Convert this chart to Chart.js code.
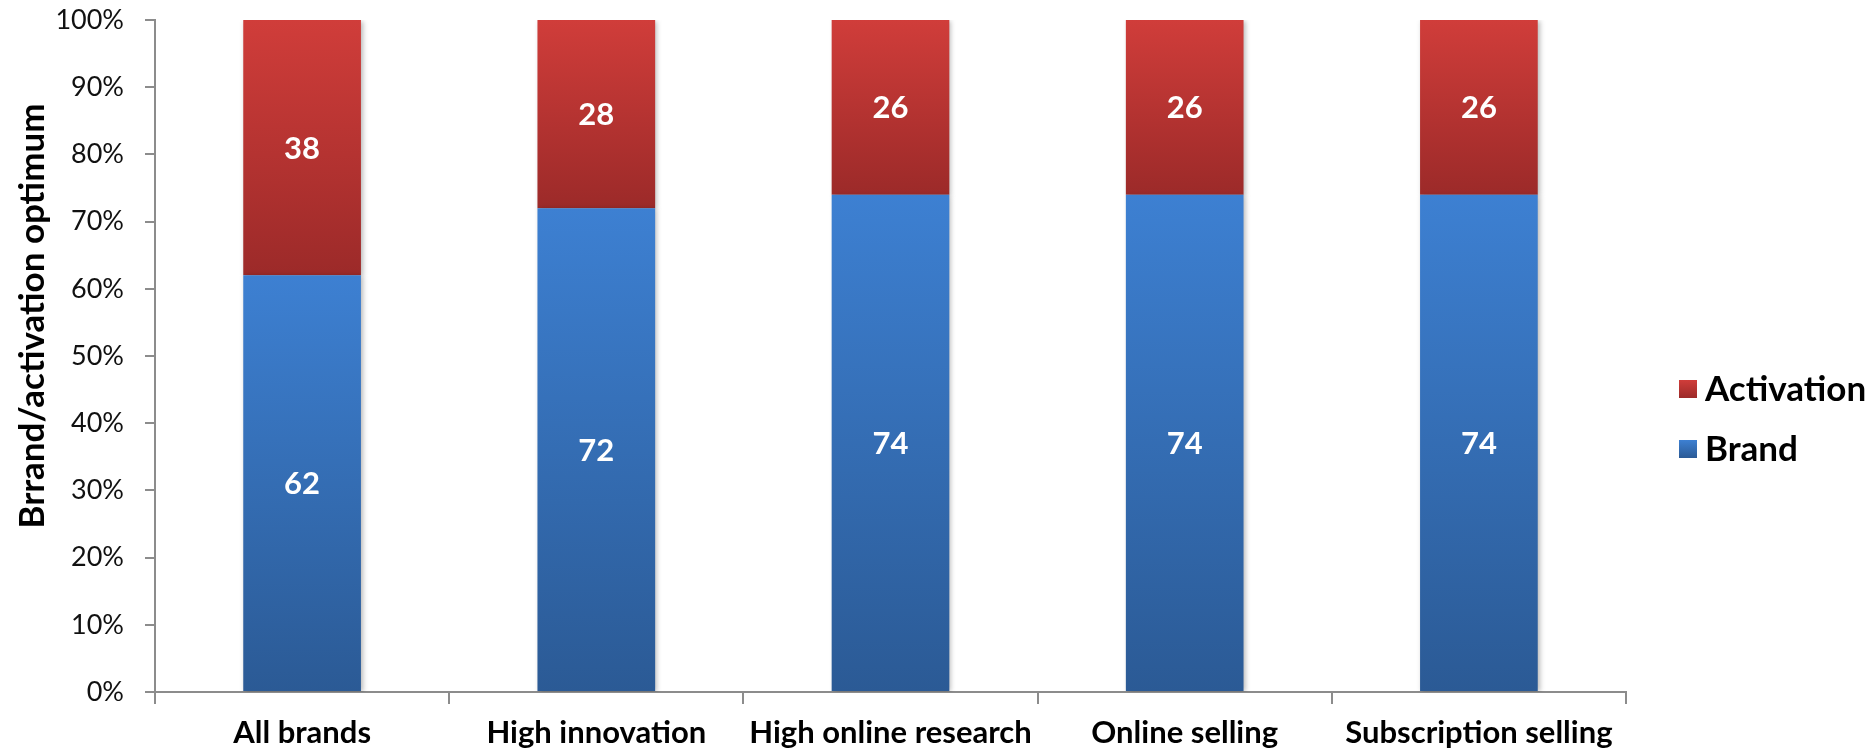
<!DOCTYPE html>
<html>
<head>
<meta charset="utf-8">
<script src="https://cdn.jsdelivr.net/npm/chart.js@4.4.1/dist/chart.umd.min.js"></script>
<style>
  html, body { margin: 0; padding: 0; background: #ffffff; }
  #wrap { width: 1866px; height: 750px; position: relative; }
</style>
</head>
<body>
<div id="wrap"><canvas id="chart" width="1866" height="750"></canvas></div>
<script>
// Segment categories and the brand / activation split (percent of budget)
const categories = ['All brands', 'High innovation', 'High online research', 'Online selling', 'Subscription selling'];
const brandShare = [62, 72, 74, 74, 74];
const activationShare = [38, 28, 26, 26, 26];
const yTickValues = [0, 10, 20, 30, 40, 50, 60, 70, 80, 90, 100];
const yTitle = 'Brrand/activation optimum';

const BLUE_TOP = '#3d80d2', BLUE_BOTTOM = '#2b5a95';
const RED_TOP = '#d03d3a', RED_BOTTOM = '#9c2a29';
const AXIS_GREY = '#8c8c8c';

// Vertical gradient spanning one stacked segment
function segmentFill(topColor, bottomColor, baseOf) {
  return (c) => {
    const chart = c.chart;
    if (!chart.chartArea || c.type !== 'data') return topColor;
    const y = chart.scales.y;
    const i = c.dataIndex;
    const start = baseOf(i);
    const end = start + c.dataset.data[i];
    const g = chart.ctx.createLinearGradient(0, y.getPixelForValue(end), 0, y.getPixelForValue(start));
    g.addColorStop(0, topColor);
    g.addColorStop(1, bottomColor);
    return g;
  };
}

// Soft drop shadow behind the bars
const barShadow = {
  id: 'barShadow',
  beforeDatasetsDraw(chart) {
    const ctx = chart.ctx;
    ctx.save();
    ctx.shadowColor = 'rgba(0,0,0,0.28)';
    ctx.shadowBlur = 5;
    ctx.shadowOffsetX = 2;
    ctx.shadowOffsetY = 1;
  },
  afterDatasetsDraw(chart) { chart.ctx.restore(); }
};

// White value labels centred in each segment
const valueLabels = {
  id: 'valueLabels',
  afterDatasetsDraw(chart) {
    const ctx = chart.ctx;
    ctx.save();
    ctx.font = 'bold 31px Lato';
    ctx.fillStyle = '#ffffff';
    ctx.textAlign = 'center';
    ctx.textBaseline = 'middle';
    chart.data.datasets.forEach((ds, di) => {
      chart.getDatasetMeta(di).data.forEach((bar, i) => {
        const p = bar.getProps(['x', 'y', 'base'], true);
        ctx.fillText(String(ds.data[i]), p.x, (p.y + p.base) / 2 + 1);
      });
    });
    ctx.restore();
  }
};

// Rotated y-axis title and right-hand legend
const sideText = {
  id: 'sideText',
  afterDraw(chart) {
    const ctx = chart.ctx;
    ctx.save();
    ctx.fillStyle = '#000000';
    ctx.font = 'bold 35px Lato';
    ctx.textAlign = 'center';
    ctx.textBaseline = 'middle';
    ctx.translate(33, 316);
    ctx.rotate(-Math.PI / 2);
    ctx.fillText(yTitle, 0, 0);
    ctx.restore();

    ctx.save();
    const order = [1, 0];
    const rows = [389, 449];
    order.forEach((di, k) => {
      const ds = chart.data.datasets[di];
      const cy = rows[k];
      const g = ctx.createLinearGradient(0, cy - 9, 0, cy + 9);
      g.addColorStop(0, ds.swatch[0]);
      g.addColorStop(1, ds.swatch[1]);
      ctx.fillStyle = g;
      ctx.fillRect(1679, cy - 9, 18, 18);
      ctx.fillStyle = '#000000';
      ctx.font = 'bold 35px Lato';
      ctx.textAlign = 'left';
      ctx.textBaseline = 'middle';
      ctx.fillText(ds.label, 1705, cy + 1);
    });
    ctx.restore();
  }
};

new Chart(document.getElementById('chart'), {
  type: 'bar',
  data: {
    labels: categories,
    datasets: [
      {
        label: 'Brand',
        data: brandShare,
        swatch: [BLUE_TOP, BLUE_BOTTOM],
        backgroundColor: segmentFill(BLUE_TOP, BLUE_BOTTOM, () => 0),
        borderWidth: 0
      },
      {
        label: 'Activation',
        data: activationShare,
        swatch: [RED_TOP, RED_BOTTOM],
        backgroundColor: segmentFill(RED_TOP, RED_BOTTOM, (i) => brandShare[i]),
        borderWidth: 0
      }
    ]
  },
  options: {
    responsive: false,
    animation: false,
    devicePixelRatio: 1,
    layout: { padding: { top: 20, right: 240, bottom: 0, left: 0 } },
    datasets: { bar: { barPercentage: 0.4, categoryPercentage: 1.0 } },
    plugins: {
      legend: { display: false },
      tooltip: { enabled: false }
    },
    scales: {
      x: {
        stacked: true,
        afterFit(scale) { scale.height = 58; scale.paddingLeft = 0; scale.paddingRight = 0; },
        grid: {
          offset: true,
          drawOnChartArea: false,
          drawTicks: true,
          tickLength: 12,
          color: AXIS_GREY,
          lineWidth: 2
        },
        border: { display: true, color: AXIS_GREY, width: 2 },
        ticks: {
          color: '#000000',
          padding: 10,
          maxRotation: 0,
          autoSkip: false,
          font: { family: 'Lato', weight: 'bold', size: 31 }
        }
      },
      y: {
        stacked: true,
        min: 0,
        max: 100,
        afterFit(scale) { scale.width = 155; scale.paddingTop = 0; scale.paddingBottom = 0; },
        afterBuildTicks(scale) { scale.ticks = yTickValues.map(v => ({ value: v })); },
        grid: {
          drawOnChartArea: false,
          drawTicks: true,
          tickLength: 10,
          color: AXIS_GREY,
          lineWidth: 2
        },
        border: { display: true, color: AXIS_GREY, width: 2 },
        ticks: {
          color: '#111111',
          padding: 21,
          font: { family: 'Lato', size: 27 },
          callback: (v) => v + '%'
        }
      }
    }
  },
  plugins: [barShadow, valueLabels, sideText]
});
</script>
</body>
</html>
